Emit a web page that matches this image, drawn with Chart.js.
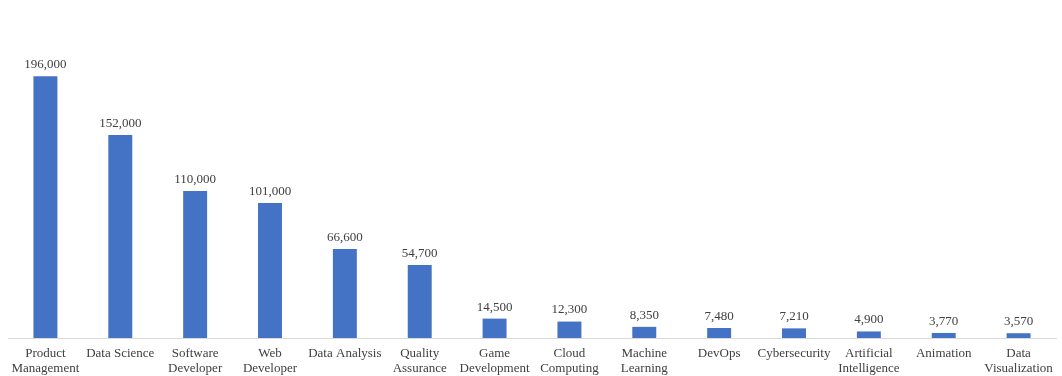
<!DOCTYPE html>
<html>
<head>
<meta charset="utf-8">
<script src="https://cdn.jsdelivr.net/npm/chart.js@4.4.1/dist/chart.umd.min.js"></script>
<style>
    html, body { margin: 0; padding: 0; background: #fff; }
    #wrap { width: 1062px; height: 376px; position: relative; }
</style>
</head>
<body>
<div id="wrap"><canvas id="jobsChart"></canvas></div>
<script>
const categories = [
    ["Product", "Management"], "Data Science", ["Software", "Developer"], ["Web", "Developer"],
    "Data Analysis", ["Quality", "Assurance"], ["Game", "Development"], ["Cloud", "Computing"],
    ["Machine", "Learning"], "DevOps", "Cybersecurity", ["Artificial", "Intelligence"],
    "Animation", ["Data", "Visualization"]
];
const jobCounts = [196000, 152000, 110000, 101000, 66600, 54700, 14500, 12300, 8350, 7480, 7210, 4900, 3770, 3570];

const FONT = "'Liberation Serif', 'DejaVu Serif', serif";
const TEXT_COLOR = "#404040";

// draw the value above each bar
const valueLabels = {
    id: "valueLabels",
    afterDatasetsDraw(chart) {
        const ctx = chart.ctx;
        const meta = chart.getDatasetMeta(0);
        ctx.save();
        ctx.font = "13px " + FONT;
        ctx.fillStyle = TEXT_COLOR;
        ctx.textAlign = "center";
        ctx.textBaseline = "bottom";
        meta.data.forEach((bar, i) => {
            ctx.fillText(jobCounts[i].toLocaleString("en-US"), bar.x, bar.y - 5);
        });
        ctx.restore();
    }
};

document.addEventListener("DOMContentLoaded", () => {
    const ctx = document.getElementById("jobsChart").getContext("2d");
    new Chart(ctx, {
        type: "bar",
        data: {
            labels: categories,
            datasets: [{
                data: jobCounts,
                backgroundColor: "#4472C4",
                categoryPercentage: 1,
                barPercentage: 0.32
            }]
        },
        options: {
            responsive: true,
            maintainAspectRatio: false,
            animation: false,
            layout: { padding: { top: 4, left: 8, right: 6, bottom: 0 } },
            scales: {
                x: {
                    grid: { display: false, drawTicks: false },
                    border: { display: true, color: "#d9d9d9", width: 1 },
                    ticks: {
                        color: TEXT_COLOR,
                        font: { family: FONT, size: 13, lineHeight: 1.15 },
                        maxRotation: 0,
                        autoSkip: false,
                        padding: 8
                    },
                    afterFit(scale) {
                        scale.height = 38;
                    }
                },
                y: {
                    display: false,
                    min: 0,
                    max: 250000
                }
            },
            plugins: {
                legend: { display: false },
                tooltip: { enabled: false }
            }
        },
        plugins: [valueLabels]
    });
});
</script>
</body>
</html>
